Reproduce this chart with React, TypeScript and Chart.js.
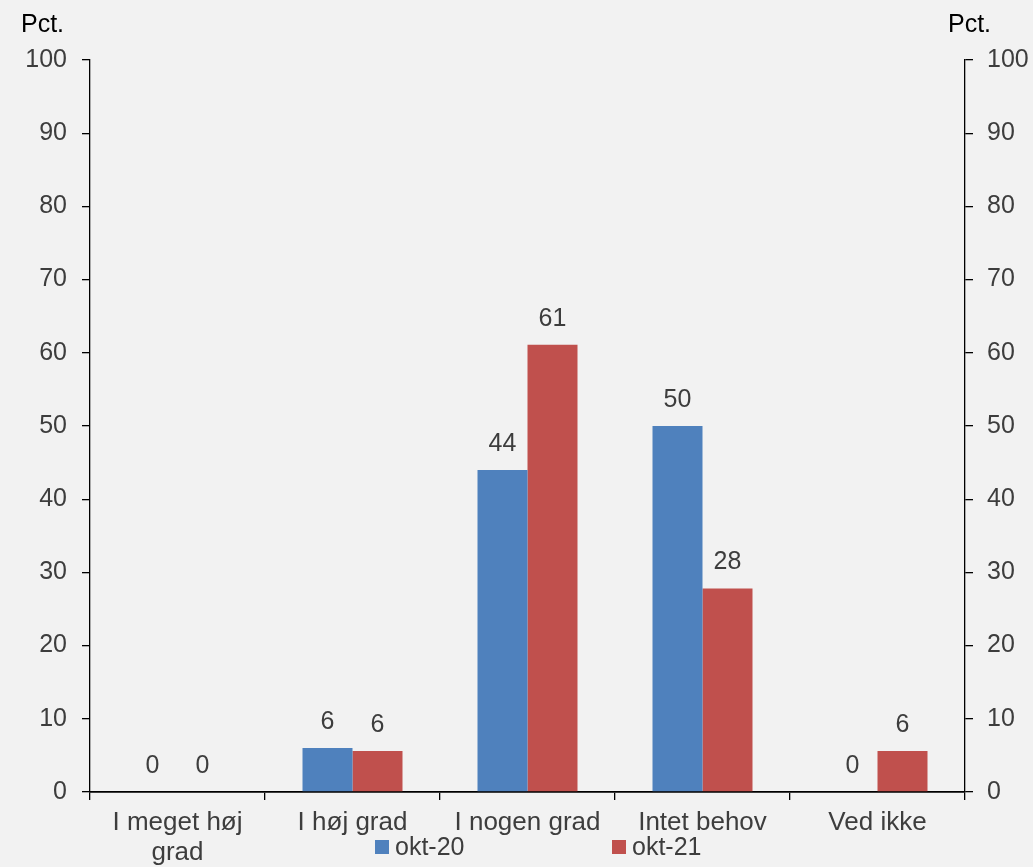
import React, { useEffect, useRef } from "react";
import { Chart, registerables } from "chart.js";

Chart.register(...registerables);

const categories: (string | string[])[] = [
  ["I meget høj", "grad"],
  "I høj grad",
  "I nogen grad",
  "Intet behov",
  "Ved ikke",
];
const okt20 = [0, 6, 44, 50, 0];
const okt21 = [0, 5.6, 61.1, 27.8, 5.6];
const okt20Labels = ["0", "6", "44", "50", "0"];
const okt21Labels = ["0", "6", "61", "28", "6"];
const seriesNames = ["okt-20", "okt-21"];
const yTicks = [0, 10, 20, 30, 40, 50, 60, 70, 80, 90, 100];
const axisTitle = "Pct.";

const BLUE = "#4f81bd";
const RED = "#c0504d";
const TEXT = "#3d3d3d";
const FONT = "'Liberation Sans', Arial, sans-serif";

export default function App() {
  const ref = useRef<HTMLCanvasElement | null>(null);

  useEffect(() => {
    document.body.style.margin = "0";
    document.body.style.background = "#f2f2f2";
    const canvas = ref.current!;
    const labelsBySeries = [okt20Labels, okt21Labels];

    const bgPlugin = {
      id: "bg",
      beforeDraw(chart: any) {
        const { ctx } = chart;
        ctx.save();
        ctx.fillStyle = "#f2f2f2";
        ctx.fillRect(0, 0, chart.width, chart.height);
        ctx.restore();
      },
    };

    const overlayPlugin = {
      id: "overlay",
      afterDraw(chart: any) {
        const { ctx } = chart;
        ctx.save();
        // data labels
        ctx.font = `25px ${FONT}`;
        ctx.fillStyle = TEXT;
        ctx.textAlign = "center";
        ctx.textBaseline = "middle";
        chart.data.datasets.forEach((ds: any, di: number) => {
          const meta = chart.getDatasetMeta(di);
          meta.data.forEach((bar: any, i: number) => {
            ctx.fillText(labelsBySeries[di][i], bar.x, bar.y - 26);
          });
        });
        // axis titles
        ctx.fillStyle = "#000";
        ctx.textAlign = "center";
        ctx.fillText(axisTitle, 42.5, 25);
        ctx.fillText(axisTitle, 969.5, 25);
        // legend
        const items = [
          { name: seriesNames[0], color: BLUE, x: 375 },
          { name: seriesNames[1], color: RED, x: 612 },
        ];
        ctx.textAlign = "left";
        items.forEach((it) => {
          ctx.fillStyle = it.color;
          ctx.fillRect(it.x, 840, 14, 14);
          ctx.fillStyle = TEXT;
          ctx.fillText(it.name, it.x + 20, 848);
        });
        ctx.restore();
      },
    };

    const tickFont = { family: FONT, size: 25 };

    const chart = new Chart(canvas, {
      type: "bar",
      data: {
        labels: categories as any,
        datasets: [
          {
            label: seriesNames[0],
            data: okt20,
            backgroundColor: BLUE,
            categoryPercentage: 100 / 175,
            barPercentage: 1,
            yAxisID: "y",
          },
          {
            label: seriesNames[1],
            data: okt21,
            backgroundColor: RED,
            categoryPercentage: 100 / 175,
            barPercentage: 1,
            yAxisID: "y",
          },
        ],
      },
      options: {
        responsive: false,
        animation: false,
        devicePixelRatio: 1,
        layout: { padding: { top: 60, left: 0, right: 0, bottom: 0 } },
        plugins: {
          legend: { display: false },
          tooltip: { enabled: false },
          title: { display: false },
        },
        scales: {
          x: {
            offset: true,
            grid: {
              display: true,
              offset: true,
              drawOnChartArea: false,
              drawTicks: true,
              tickLength: 8,
              color: "#000",
              lineWidth: 1.3,
            },
            border: { display: true, color: "#000", width: 1.8 },
            ticks: {
              color: TEXT,
              font: { family: FONT, size: 26, lineHeight: 1.16 },
              padding: 8,
              maxRotation: 0,
              autoSkip: false,
            },
            afterFit(scale: any) {
              scale.height = 75;
            },
          },
          y: {
            position: "left",
            min: 0,
            max: 100,
            afterBuildTicks(scale: any) {
              scale.ticks = yTicks.map((v) => ({ value: v }));
            },
            grid: {
              display: true,
              drawOnChartArea: false,
              drawTicks: true,
              tickLength: 8,
              color: "#000",
              lineWidth: 1.3,
            },
            border: { display: true, color: "#000", width: 1.3 },
            ticks: { color: TEXT, font: tickFont, padding: 15 },
            afterFit(scale: any) {
              scale.width = 90;
            },
          },
          y2: {
            position: "right",
            min: 0,
            max: 100,
            afterBuildTicks(scale: any) {
              scale.ticks = yTicks.map((v) => ({ value: v }));
            },
            grid: {
              display: true,
              drawOnChartArea: false,
              drawTicks: true,
              tickLength: 8,
              color: "#000",
              lineWidth: 1.3,
            },
            border: { display: true, color: "#000", width: 1.3 },
            ticks: { color: TEXT, font: tickFont, padding: 14 },
            afterFit(scale: any) {
              scale.width = 68;
            },
          },
        },
      } as any,
      plugins: [bgPlugin, overlayPlugin],
    });

    return () => chart.destroy();
  }, []);

  return (
    <div style={{ width: 1033, height: 867, background: "#f2f2f2" }}>
      <canvas ref={ref} width={1033} height={867} style={{ display: "block" }} />
    </div>
  );
}
